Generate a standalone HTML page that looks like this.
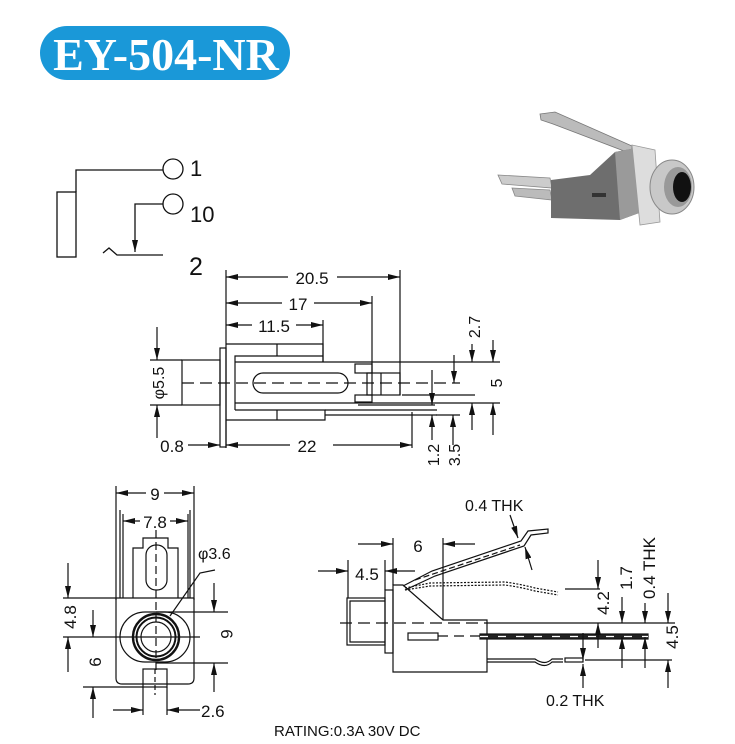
<!DOCTYPE html>
<html><head><meta charset="utf-8"><style>
html,body{margin:0;padding:0;background:#fff;}
svg{display:block;}
text{font-family:"Liberation Sans",sans-serif;fill:#111;}
</style></head><body>
<svg width="735" height="744" viewBox="0 0 735 744" xmlns="http://www.w3.org/2000/svg">
<defs>
<marker id="a" viewBox="0 0 12 6" refX="12" refY="3" markerWidth="12" markerHeight="6" markerUnits="userSpaceOnUse" orient="auto-start-reverse"><path d="M0,0 L12,3 L0,6 z" fill="#111"/></marker>
</defs>
<!-- Title -->
<rect x="40" y="26" width="250" height="54" rx="27" fill="#1a98d8"/>
<text x="166" y="70" text-anchor="middle" style="font-family:'Liberation Serif',serif;font-weight:bold;font-size:46px;fill:#fff">EY-504-NR</text>

<g stroke="#111" stroke-width="1.3" fill="none">
<!-- schematic -->
<rect x="57" y="192" width="19" height="65"/>
<polyline points="76,192 76,170 163,170"/>
<circle cx="173" cy="169" r="10"/>
<circle cx="173" cy="204" r="10"/>
<polyline points="163,204 135,204 135,252" marker-end="url(#a)"/>
<polyline points="103,253 109,248 117,255 163,255"/>
</g>
<text x="190" y="176" font-size="22">1</text>
<text x="190" y="222" font-size="22">10</text>
<text x="189" y="275" font-size="25">2</text>

<!-- photo -->
<g>
<polygon points="540,114 555,112 632,146 632,154 553,124 541,120" fill="#bbb" stroke="#777" stroke-width="0.8"/>
<polygon points="498,175 550,178 552,188 502,184" fill="#ccc" stroke="#888" stroke-width="0.8"/>
<polygon points="512,188 550,190 552,200 515,196" fill="#bbb" stroke="#888" stroke-width="0.8"/>
<polygon points="551,180 590,175 615,152 636,148 642,212 620,220 551,218" fill="#6e6e6e"/>
<polygon points="615,152 636,148 642,212 620,220" fill="#9a9a9a"/>
<polygon points="632,145 655,150 660,222 640,225" fill="#ddd" stroke="#999" stroke-width="0.8"/>
<ellipse cx="672" cy="187" rx="22" ry="27" fill="#c8c8c8" stroke="#888"/>
<ellipse cx="678" cy="187" rx="14" ry="20" fill="#999"/>
<ellipse cx="682" cy="187" rx="9" ry="15" fill="#111"/>
<rect x="592" y="193" width="14" height="4" fill="#333"/>
</g>

<g stroke="#111" stroke-width="1.2" fill="none">
<!-- TOP VIEW -->
<line x1="226" y1="270" x2="226" y2="448"/>
<line x1="400" y1="270" x2="400" y2="395"/>
<line x1="372" y1="296" x2="372" y2="395"/>
<line x1="323" y1="320" x2="323" y2="362"/>
<line x1="226" y1="277" x2="288" y2="277" marker-start="url(#a)"/>
<line x1="337" y1="277" x2="400" y2="277" marker-end="url(#a)"/>
<line x1="226" y1="303" x2="282" y2="303" marker-start="url(#a)"/>
<line x1="314" y1="303" x2="372" y2="303" marker-end="url(#a)"/>
<line x1="226" y1="325" x2="252" y2="325" marker-start="url(#a)"/>
<line x1="296" y1="325" x2="323" y2="325" marker-end="url(#a)"/>
<rect x="220" y="348" width="6" height="99"/>
<rect x="182" y="360" width="38" height="45"/>
<polyline points="226,344 323,344 323,362"/>
<line x1="277" y1="344" x2="277" y2="356"/>
<polyline points="235,410 235,356 323,356"/>
<line x1="235" y1="362" x2="500" y2="362"/>
<line x1="235" y1="403" x2="500" y2="403"/>
<polyline points="235,410 325,410 325,420 226,420"/>
<line x1="277" y1="410" x2="277" y2="420"/>
<rect x="253" y="373" width="95" height="20" rx="10"/>
<rect x="355" y="364" width="17" height="9"/>
<rect x="367" y="373" width="33" height="22"/>
<line x1="381" y1="373" x2="381" y2="395"/>
<rect x="355" y="395" width="17" height="7"/>
<line x1="402" y1="395" x2="475" y2="395"/>
<line x1="358" y1="405" x2="435" y2="405"/>
<line x1="325" y1="410" x2="437" y2="410"/>
<line x1="325" y1="415" x2="437" y2="415"/>
<line x1="412" y1="412" x2="412" y2="448"/>
<line x1="182" y1="383" x2="460" y2="383" stroke-dasharray="12,6"/>
<line x1="150" y1="360" x2="182" y2="360"/>
<line x1="150" y1="405" x2="182" y2="405"/>
<line x1="157" y1="327" x2="157" y2="360" marker-end="url(#a)"/>
<line x1="157" y1="438" x2="157" y2="405" marker-end="url(#a)"/>
<line x1="226" y1="445" x2="290" y2="445" marker-start="url(#a)"/>
<line x1="333" y1="445" x2="412" y2="445" marker-end="url(#a)"/>
<line x1="188" y1="445" x2="220" y2="445" marker-end="url(#a)"/>
<line x1="472" y1="344" x2="472" y2="362" marker-end="url(#a)"/>
<line x1="472" y1="430" x2="472" y2="403" marker-end="url(#a)"/>
<line x1="493" y1="340" x2="493" y2="362" marker-end="url(#a)"/>
<line x1="493" y1="435" x2="493" y2="403" marker-end="url(#a)"/>
<line x1="454" y1="355" x2="454" y2="383" marker-end="url(#a)"/>
<line x1="432" y1="370" x2="432" y2="405" marker-end="url(#a)"/>
<line x1="432" y1="440" x2="432" y2="415" marker-end="url(#a)"/>
<line x1="453" y1="445" x2="453" y2="415" marker-end="url(#a)"/>
<line x1="436" y1="415" x2="460" y2="415"/>
</g>
<text x="312" y="284" font-size="17" text-anchor="middle">20.5</text>
<text x="298" y="310" font-size="17" text-anchor="middle">17</text>
<text x="274" y="332" font-size="17" text-anchor="middle">11.5</text>
<text x="307" y="452" font-size="17" text-anchor="middle">22</text>
<text x="172" y="452" font-size="17" text-anchor="middle">0.8</text>
<text transform="translate(164,383) rotate(-90)" font-size="16" text-anchor="middle">φ5.5</text>
<text transform="translate(480,327) rotate(-90)" font-size="16" text-anchor="middle">2.7</text>
<text transform="translate(502,383) rotate(-90)" font-size="16" text-anchor="middle">5</text>
<text transform="translate(439,455) rotate(-90)" font-size="16" text-anchor="middle">1.2</text>
<text transform="translate(460,455) rotate(-90)" font-size="16" text-anchor="middle">3.5</text>

<g stroke="#111" stroke-width="1.2" fill="none">
<!-- FRONT VIEW -->
<line x1="116" y1="486" x2="116" y2="600"/>
<line x1="194" y1="486" x2="194" y2="600"/>
<line x1="123" y1="514" x2="123" y2="598"/>
<line x1="188" y1="514" x2="188" y2="598"/>
<line x1="116" y1="493" x2="146" y2="493" marker-start="url(#a)"/>
<line x1="164" y1="493" x2="194" y2="493" marker-end="url(#a)"/>
<line x1="123" y1="521" x2="140" y2="521" marker-start="url(#a)"/>
<line x1="170" y1="521" x2="188" y2="521" marker-end="url(#a)"/>
<path d="M116,598 L116,678 Q116,684 122,684 L188,684 Q194,684 194,678 L194,598"/>
<line x1="120" y1="510" x2="120" y2="598"/>
<line x1="190" y1="510" x2="190" y2="598"/>
<line x1="63" y1="598" x2="194" y2="598"/>
<polyline points="133,598 133,548 143,548 143,538 168,538 168,548 178,548 178,598"/>
<rect x="146" y="545" width="21" height="45" rx="10"/>
<rect x="120" y="612" width="70" height="50" rx="25"/>
<circle cx="156" cy="637" r="23" stroke-width="2.4"/>
<circle cx="156" cy="637" r="19.5" stroke-width="2"/>
<circle cx="156" cy="637" r="15"/>
<rect x="143" y="669" width="24" height="18"/>
<line x1="155" y1="669" x2="155" y2="695" stroke-dasharray="5,3"/>
<line x1="156" y1="530" x2="156" y2="670" stroke-dasharray="8,4"/>
<line x1="63" y1="637" x2="200" y2="637"/>
<line x1="156" y1="612" x2="228" y2="612"/>
<line x1="156" y1="663" x2="228" y2="663"/>
<line x1="83" y1="687" x2="143" y2="687"/>
<line x1="68" y1="563" x2="68" y2="598" marker-end="url(#a)"/>
<line x1="68" y1="672" x2="68" y2="637" marker-end="url(#a)"/>
<line x1="93" y1="610" x2="93" y2="637" marker-end="url(#a)"/>
<line x1="93" y1="718" x2="93" y2="687" marker-end="url(#a)"/>
<line x1="214" y1="583" x2="214" y2="612" marker-end="url(#a)"/>
<line x1="214" y1="692" x2="214" y2="663" marker-end="url(#a)"/>
<polyline points="215,570 200,573 170,616"/>
<line x1="143" y1="687" x2="143" y2="715"/>
<line x1="167" y1="687" x2="167" y2="715"/>
<line x1="113" y1="710" x2="143" y2="710" marker-end="url(#a)"/>
<line x1="200" y1="710" x2="167" y2="710" marker-end="url(#a)"/>
</g>
<text x="155" y="500" font-size="17" text-anchor="middle">9</text>
<text x="155" y="528" font-size="17" text-anchor="middle">7.8</text>
<text x="198" y="559" font-size="16">φ3.6</text>
<text transform="translate(76,617) rotate(-90)" font-size="17" text-anchor="middle">4.8</text>
<text transform="translate(101,662) rotate(-90)" font-size="17" text-anchor="middle">6</text>
<text transform="translate(221,634) rotate(90)" font-size="17" text-anchor="middle">6</text>
<text x="201" y="717" font-size="17">2.6</text>

<g stroke="#111" stroke-width="1.2" fill="none">
<!-- SIDE VIEW -->
<rect x="347" y="598" width="38" height="47"/>
<polyline points="385,601 350,601 350,642 385,642"/>
<rect x="385" y="590" width="8" height="63"/>
<polygon points="393,585 403,585 443,620 487,620 487,672 393,672"/>
<line x1="340" y1="623" x2="487" y2="623" stroke-dasharray="12,6"/>
<line x1="487" y1="623" x2="675" y2="623"/>
<rect x="408" y="633" width="30" height="7"/>
<line x1="438" y1="636" x2="480" y2="636" stroke-dasharray="10,6"/>
<rect x="480" y="634" width="168" height="5" fill="#222"/>
<line x1="480" y1="636.5" x2="648" y2="636.5" stroke="#fff" stroke-width="1.2" stroke-dasharray="8,10"/>
<path d="M487,659 L535,659 Q545,666 552,659 L563,659"/>
<path d="M487,662 L535,662 Q545,669 552,662 L563,662"/>
<rect x="565" y="658" width="18" height="4"/>
<line x1="585" y1="660" x2="672" y2="660"/>
<path d="M403,586 L432,571 L521,541 L528,531 L548,529 L548,533 L531,535 L524,546 L435,576 L405,590"/>
<line x1="415" y1="580" x2="520" y2="545" stroke-dasharray="6,3"/>
<path d="M405,588 L430,583 L505,582 Q520,584 535,588 L558,592" stroke-dasharray="2,1.5"/>
<path d="M405,590 L430,586 L505,585 Q520,587 535,591 L558,595" stroke-dasharray="2,1.5"/>
<line x1="565" y1="589" x2="600" y2="589"/>
<line x1="393" y1="538" x2="393" y2="585"/>
<line x1="443" y1="538" x2="443" y2="620"/>
<line x1="358" y1="544" x2="393" y2="544" marker-end="url(#a)"/>
<line x1="475" y1="544" x2="443" y2="544" marker-end="url(#a)"/>
<line x1="348" y1="560" x2="348" y2="598"/>
<line x1="385" y1="560" x2="385" y2="590"/>
<line x1="318" y1="571" x2="348" y2="571" marker-end="url(#a)"/>
<line x1="415" y1="571" x2="385" y2="571" marker-end="url(#a)"/>
<line x1="510" y1="515" x2="518" y2="538" marker-end="url(#a)"/>
<line x1="532" y1="570" x2="525" y2="547" marker-end="url(#a)"/>
<line x1="598" y1="560" x2="598" y2="589" marker-end="url(#a)"/>
<line x1="598" y1="648" x2="598" y2="623" marker-end="url(#a)"/>
<line x1="622" y1="597" x2="622" y2="623" marker-end="url(#a)"/>
<line x1="622" y1="668" x2="622" y2="637" marker-end="url(#a)"/>
<line x1="645" y1="603" x2="645" y2="623" marker-end="url(#a)"/>
<line x1="645" y1="668" x2="645" y2="637" marker-end="url(#a)"/>
<line x1="668" y1="593" x2="668" y2="623" marker-end="url(#a)"/>
<line x1="668" y1="688" x2="668" y2="660" marker-end="url(#a)"/>
<line x1="583" y1="633" x2="583" y2="660" marker-end="url(#a)"/>
<line x1="583" y1="688" x2="583" y2="664" marker-end="url(#a)"/>
</g>
<text x="418" y="552" font-size="17" text-anchor="middle">6</text>
<text x="367" y="580" font-size="17" text-anchor="middle">4.5</text>
<text x="465" y="511" font-size="16">0.4 THK</text>
<text transform="translate(609,603) rotate(-90)" font-size="17" text-anchor="middle">4.2</text>
<text transform="translate(632,578) rotate(-90)" font-size="17" text-anchor="middle">1.7</text>
<text transform="translate(655,568) rotate(-90)" font-size="17" text-anchor="middle">0.4 THK</text>
<text transform="translate(678,637) rotate(-90)" font-size="17" text-anchor="middle">4.5</text>
<text x="546" y="706" font-size="16">0.2 THK</text>
<text x="274" y="736" font-size="15">RATING:0.3A 30V DC</text>
</svg>
</body></html>
